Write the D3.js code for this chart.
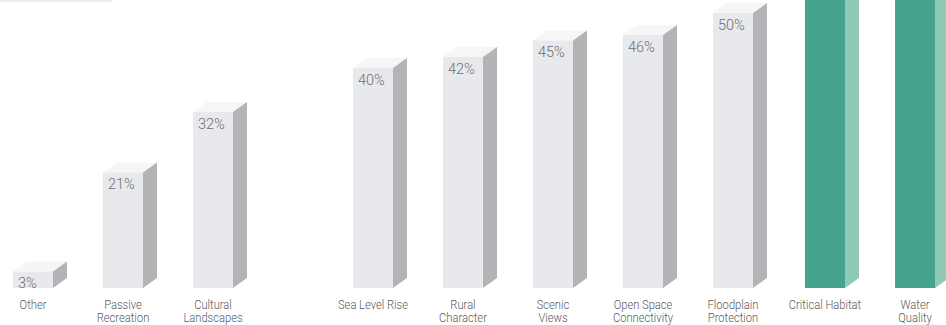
<!DOCTYPE html>
<html><head><meta charset="utf-8">
<script src="https://cdn.jsdelivr.net/npm/d3@7"></script>
<style>
html,body{margin:0;padding:0;background:#fff;overflow:hidden}
svg{display:block}
text{font-family:Roboto,"Liberation Sans",sans-serif;font-weight:300}
</style></head>
<body><svg id="c" width="946" height="325"></svg>
<script>
const categories = [["Other"],["Passive","Recreation"],["Cultural","Landscapes"],["Sea Level Rise"],["Rural","Character"],["Scenic","Views"],["Open Space","Connectivity"],["Floodplain","Protection"],["Critical Habitat"],["Water","Quality"]];
const values = [3,21,32,40,42,45,46,50,61,65];
const highlighted = [false,false,false,false,false,false,false,false,true,true];
const valueLabels = ["3%","21%","32%","40%","42%","45%","46%","50%","61%","65%"];

const svg = d3.select("#c");
const base = 288, pxPerPct = 5.5;
const y = d3.scaleLinear().domain([0,50]).range([base, base - 50*pxPerPct]);
const idx = d3.range(categories.length);
const x0 = d3.scaleLinear().domain([0,1]).range([13,103]);
const gap = 70;
const xPos = i => x0(i) + (i >= 3 ? gap : 0) + (i >= 8 ? 2 : 0);
const bw = 40, dx = 14, dy = 10;

svg.append("rect").attr("x",0).attr("y",0).attr("width",112).attr("height",2).attr("fill","#e8eef8");

const g = svg.append("g");
const bars = g.selectAll("g.bar").data(idx).join("g").attr("class","bar");

bars.append("path").attr("d", i => {
  const l = xPos(i), r = l + bw, t = y(values[i]);
  return `M${l},${t}L${l+dx},${t-dy}L${r+dx},${t-dy}L${r},${t}Z`;
}).attr("fill", i => highlighted[i] ? "#6fb9a4" : "#f6f6f7");

bars.append("path").attr("d", i => {
  const r = xPos(i) + bw, t = y(values[i]);
  return `M${r},${t}L${r+dx},${t-dy}L${r+dx},${base-dy}L${r},${base}Z`;
}).attr("fill", i => highlighted[i] ? "#8fcab8" : "#b4b4b6");

bars.append("rect")
  .attr("x", i => xPos(i)).attr("y", i => y(values[i]))
  .attr("width", bw).attr("height", i => base - y(values[i]))
  .attr("fill", i => highlighted[i] ? "#44a48e" : "#e8e9ed");

bars.filter(i => y(values[i]) + 16 > 14).append("text")
  .attr("x", i => xPos(i) + 5).attr("y", i => y(values[i]) + 16.5)
  .attr("font-size", 14.5).attr("fill", "#6e6e72")
  .text(i => valueLabels[i]);

bars.each(function(i){
  const t = d3.select(this).append("text")
    .attr("text-anchor","middle").attr("font-size",13).attr("fill","#5a5a5e")
    .attr("transform", `translate(${xPos(i) + bw/2},308.5) scale(0.86,1)`);
  categories[i].forEach((line, k) => {
    t.append("tspan").attr("x", 0).attr("dy", k === 0 ? 0 : 13.5).text(line);
  });
});
</script></body></html>
